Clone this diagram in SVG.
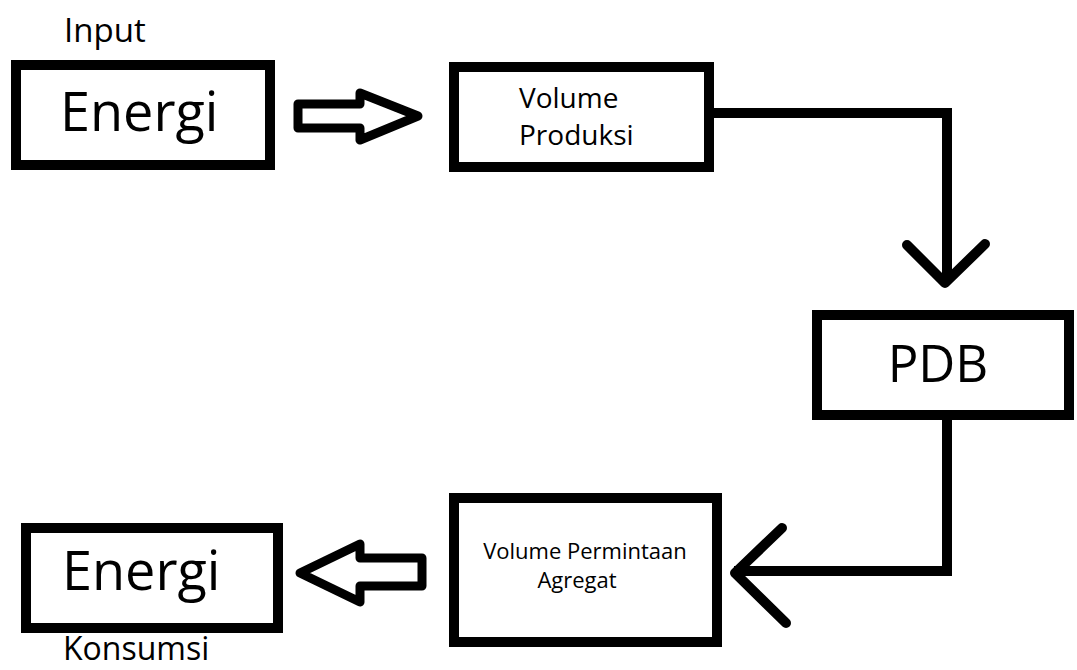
<svg xmlns="http://www.w3.org/2000/svg" width="1077" height="670" viewBox="0 0 1077 670">
  <style>
    .box { fill: #ffffff; stroke: #000000; stroke-width: 10; }
    .t { font-family: "Open Sans", "Noto Sans", "DejaVu Sans", sans-serif; fill: #000000; }
    .line { fill: none; stroke: #000000; stroke-width: 10; stroke-linejoin: miter; }
    .head { fill: none; stroke: #000000; stroke-width: 10; stroke-linecap: round; stroke-linejoin: round; }
    .block { fill: #ffffff; stroke: #000000; stroke-width: 9; stroke-linejoin: round; }
  </style>
  <rect x="0" y="0" width="1077" height="670" fill="#ffffff"/>

  <g id="label-input">
    <text class="t" x="64" y="42" font-size="33">Input</text>
  </g>

  <g id="node-energi-input">
    <rect class="box" x="16" y="65" width="254" height="100"/>
    <text class="t" x="60" y="131" font-size="54">Energi</text>
  </g>

  <g id="node-volume-produksi">
    <rect class="box" x="454" y="67" width="255" height="100"/>
    <text class="t" x="519" y="108" font-size="28">Volume</text>
    <text class="t" x="519" y="145" font-size="28">Produksi</text>
  </g>

  <g id="node-pdb">
    <rect class="box" x="817" y="315" width="252" height="100"/>
    <text class="t" x="938" y="382" font-size="51" text-anchor="middle">PDB</text>
  </g>

  <g id="node-volume-permintaan">
    <rect class="box" x="454" y="498" width="263" height="144"/>
    <text class="t" x="585" y="559" font-size="22" text-anchor="middle">Volume Permintaan</text>
    <text class="t" x="577" y="588" font-size="22" text-anchor="middle">Agregat</text>
  </g>

  <g id="node-energi-konsumsi">
    <rect class="box" x="26" y="528" width="252" height="100"/>
    <text class="t" x="62" y="590" font-size="54">Energi</text>
    <text class="t" x="63" y="660" font-size="32">Konsumsi</text>
  </g>

  <g id="connectors">
    <polygon class="block" points="298,104 360,104 360,93 418,116 360,140 360,128 298,128"/>
    <path class="line" d="M714 113 H947 V281"/>
    <polyline class="head" points="907,245 945,283 985,244"/>
    <path class="line" d="M947 420 V571 H734"/>
    <polyline class="head" points="782,528 735,573 786,623"/>
    <polygon class="block" points="422,558 360,558 360,544 300,573 360,602 360,586 422,586"/>
  </g>
</svg>
